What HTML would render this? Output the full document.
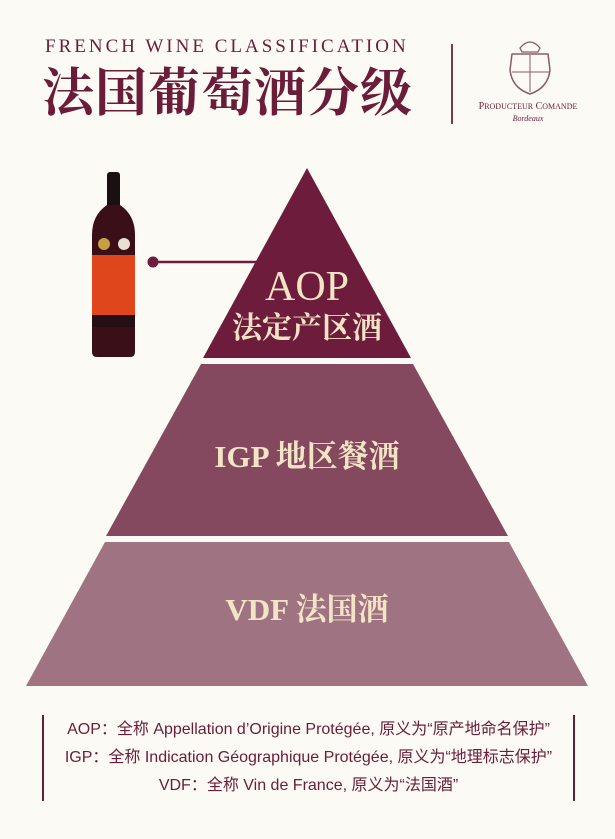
<!DOCTYPE html>
<html><head><meta charset="utf-8"><style>
body{margin:0;width:615px;height:839px;background:#fcfaf5;position:relative;overflow:hidden;font-family:"Liberation Serif","Noto Serif CJK SC",serif;}
.a{position:absolute;}
</style></head><body>
<div class="a" style="left:45px;top:36px;font-size:19px;letter-spacing:3px;color:#6a1c38;white-space:nowrap;">FRENCH WINE CLASSIFICATION</div>
<div class="a" style="left:42px;top:62px;font-size:52px;letter-spacing:1px;color:#6a1c38;font-weight:bold;white-space:nowrap;line-height:66px;">法国葡萄酒分级</div>
<div class="a" style="left:451px;top:44px;width:2px;height:80px;background:#7a3a50;"></div>
<svg class="a" style="left:493px;top:36px" width="74" height="64" viewBox="0 0 74 64">
<path d="M27 12 Q37 0 47 12 L45 16 L29 16Z" fill="none" stroke="#8b5a6a" stroke-width="1.3"/>
<path d="M19 18 L55 18 L57 34 Q55 52 37 58 Q19 52 17 34Z" fill="none" stroke="#8b5a6a" stroke-width="1.5"/>
<line x1="37" y1="19" x2="37" y2="56" stroke="#8b5a6a"/><line x1="19" y1="36" x2="56" y2="36" stroke="#8b5a6a"/>
</svg>
<div class="a" style="left:470px;top:101px;width:116px;text-align:center;font-size:10px;color:#6a1c38;white-space:nowrap;">P<span style="font-size:8px">RODUCTEUR</span> C<span style="font-size:8px">OMANDE</span></div>
<div class="a" style="left:470px;top:114px;width:116px;text-align:center;font-size:8px;font-style:italic;color:#6a1c38;">Bordeaux</div>

<svg class="a" style="left:0;top:0" width="615" height="839">
<polygon points="307,168 411,358 203,358" fill="#6e1c3c"/>
<polygon points="201,364 413,364 508,536 106,536" fill="#85495f"/>
<polygon points="105,542 509,542 588,686 26,686" fill="#a07382"/>
<line x1="153" y1="262" x2="262" y2="262" stroke="#6e1c3c" stroke-width="2.5"/>
<circle cx="153" cy="262" r="5.5" fill="#6e1c3c"/>
<rect x="107" y="172" width="13" height="40" rx="3" fill="#1a1012"/>
<path d="M107 205 Q92 215 92 235 L92 352 Q92 357 97 357 L130 357 Q135 357 135 352 L135 235 Q135 215 120 205Z" fill="#3a0f18"/>
<rect x="92" y="255" width="43" height="60" fill="#e0461c"/>
<circle cx="104" cy="244" r="6" fill="#c8a040"/><circle cx="124" cy="244" r="6" fill="#e8e0d0"/>
<rect x="92" y="315" width="43" height="12" fill="#241014"/>
</svg>
<div class="a" style="left:207px;top:262px;width:200px;text-align:center;font-size:42px;color:#f3e4c6;line-height:50px;">AOP</div>
<div class="a" style="left:207px;top:310px;width:200px;text-align:center;font-size:30px;color:#f3e4c6;line-height:38px;font-weight:bold;">法定产区酒</div>
<div class="a" style="left:107px;top:437px;width:400px;text-align:center;font-size:31px;color:#f3e4c6;line-height:40px;font-weight:bold;">IGP 地区餐酒</div>
<div class="a" style="left:107px;top:590px;width:400px;text-align:center;font-size:31px;color:#f3e4c6;line-height:40px;font-weight:bold;">VDF 法国酒</div>

<div class="a" style="left:42px;top:715px;width:2px;height:86px;background:#6a1c38;"></div>
<div class="a" style="left:573px;top:715px;width:2px;height:86px;background:#6a1c38;"></div>
<div class="a" style="left:44px;top:716px;width:529px;text-align:center;font-family:'Liberation Sans','Noto Sans CJK SC',sans-serif;font-size:16px;line-height:28px;color:#6a1c38;white-space:nowrap;">
AOP：全称 Appellation d’Origine Protégée, 原义为“原产地命名保护”<br>
IGP：全称 Indication Géographique Protégée, 原义为“地理标志保护”<br>
VDF：全称 Vin de France, 原义为“法国酒”</div>
</body></html>
